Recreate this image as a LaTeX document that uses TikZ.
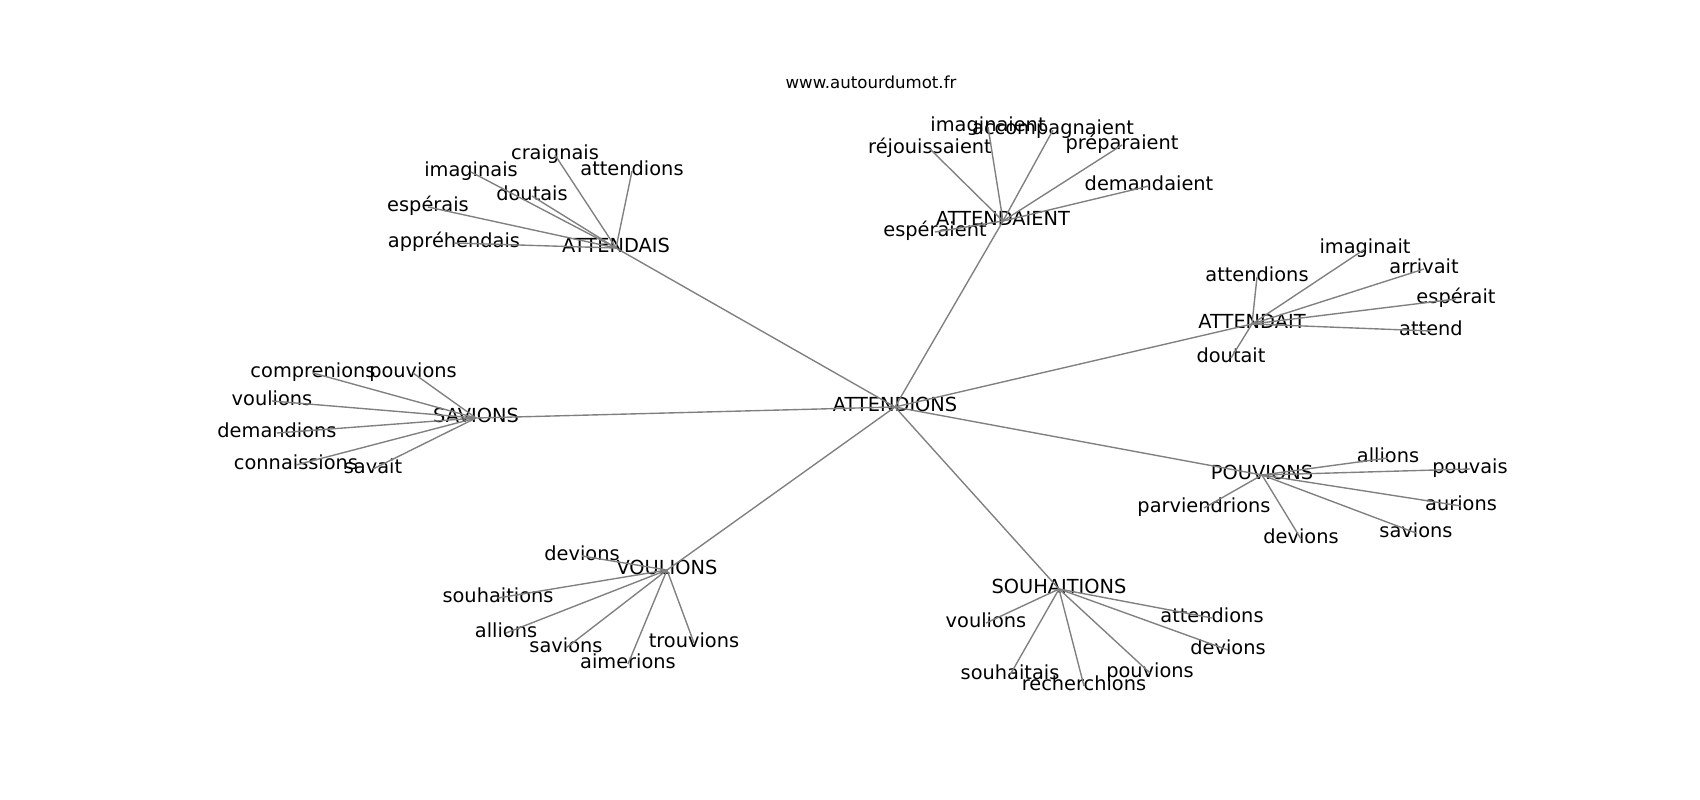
\documentclass[tikz,border=0pt]{standalone}
\usepackage{fontspec}
\setmainfont{DejaVu Sans}
\tikzset{
  word/.style={inner sep=0pt,text height=10.6pt,text depth=4.8pt,font=\fontsize{14}{17}\selectfont},
  link/.style={gray,line width=1pt}
}
\begin{document}
\begin{tikzpicture}[x=0.254mm,y=-0.254mm]
\useasboundingbox (0,0) rectangle (1700,800);

% Title
\node[anchor=base,font=\fontsize{12}{14}\selectfont] (title) at (871,88) {www.autourdumot.fr};

% Centre
\node[word] (attendions) at (895,407) {ATTENDIONS};

% ATTENDAIS
\node[word] (attendais) at (616,248) {ATTENDAIS};
\node[word] (ais-craignais) at (555,155) {craignais};
\node[word] (ais-attendions) at (632,171) {attendions};
\node[word] (ais-imaginais) at (471,172) {imaginais};
\node[word] (ais-doutais) at (532,196) {doutais};
\node[word] (ais-esperais) at (428,207) {espérais};
\node[word] (ais-apprehendais) at (454,243) {appréhendais};

% ATTENDAIENT
\node[word] (attendaient) at (1003,221) {ATTENDAIENT};
\node[word] (aient-imaginaient) at (988,127) {imaginaient};
\node[word] (aient-accompagnaient) at (1053,130) {accompagnaient};
\node[word] (aient-rejouissaient) at (930,149) {réjouissaient};
\node[word] (aient-preparaient) at (1122,145) {préparaient};
\node[word] (aient-demandaient) at (1149,186) {demandaient};
\node[word] (aient-esperaient) at (935,232) {espéraient};

% ATTENDAIT
\node[word] (attendait) at (1252,324) {ATTENDAIT};
\node[word] (ait-attendions) at (1257,277) {attendions};
\node[word] (ait-imaginait) at (1365,249) {imaginait};
\node[word] (ait-arrivait) at (1424,269) {arrivait};
\node[word] (ait-esperait) at (1456,299) {espérait};
\node[word] (ait-attend) at (1431,331) {attend};
\node[word] (ait-doutait) at (1231,358) {doutait};

% POUVIONS
\node[word] (pouvions) at (1262,475) {POUVIONS};
\node[word] (pou-allions) at (1388,458) {allions};
\node[word] (pou-pouvais) at (1470,469) {pouvais};
\node[word] (pou-aurions) at (1461,506) {aurions};
\node[word] (pou-savions) at (1416,533) {savions};
\node[word] (pou-devions) at (1301,539) {devions};
\node[word] (pou-parviendrions) at (1204,508) {parviendrions};

% SAVIONS
\node[word] (savions) at (476,418) {SAVIONS};
\node[word] (sav-comprenions) at (313,373) {comprenions};
\node[word] (sav-pouvions) at (413,373) {pouvions};
\node[word] (sav-voulions) at (272,401) {voulions};
\node[word] (sav-demandions) at (277,433) {demandions};
\node[word] (sav-connaissions) at (296,465) {connaissions};
\node[word] (sav-savait) at (373,469) {savait};

% VOULIONS
\node[word] (voulions) at (667,570) {VOULIONS};
\node[word] (vou-devions) at (582,556) {devions};
\node[word] (vou-souhaitions) at (498,598) {souhaitions};
\node[word] (vou-allions) at (506,633) {allions};
\node[word] (vou-savions) at (566,648) {savions};
\node[word] (vou-aimerions) at (628,664) {aimerions};
\node[word] (vou-trouvions) at (694,643) {trouvions};

% SOUHAITIONS
\node[word] (souhaitions) at (1059,589) {SOUHAITIONS};
\node[word] (sou-voulions) at (986,623) {voulions};
\node[word] (sou-attendions) at (1212,618) {attendions};
\node[word] (sou-devions) at (1228,650) {devions};
\node[word] (sou-souhaitais) at (1010,675) {souhaitais};
\node[word] (sou-recherchions) at (1084,686) {recherchions};
\node[word] (sou-pouvions) at (1150,673) {pouvions};

% Links
\foreach \h in {attendais,attendaient,attendait,pouvions,savions,voulions,souhaitions}
  \draw[link] (attendions.center) -- (\h.center);
\foreach \w in {craignais,attendions,imaginais,doutais,esperais,apprehendais}
  \draw[link] (attendais.center) -- (ais-\w.center);
\foreach \w in {imaginaient,accompagnaient,rejouissaient,preparaient,demandaient,esperaient}
  \draw[link] (attendaient.center) -- (aient-\w.center);
\foreach \w in {attendions,imaginait,arrivait,esperait,attend,doutait}
  \draw[link] (attendait.center) -- (ait-\w.center);
\foreach \w in {allions,pouvais,aurions,savions,devions,parviendrions}
  \draw[link] (pouvions.center) -- (pou-\w.center);
\foreach \w in {comprenions,pouvions,voulions,demandions,connaissions,savait}
  \draw[link] (savions.center) -- (sav-\w.center);
\foreach \w in {devions,souhaitions,allions,savions,aimerions,trouvions}
  \draw[link] (voulions.center) -- (vou-\w.center);
\foreach \w in {voulions,attendions,devions,souhaitais,recherchions,pouvions}
  \draw[link] (souhaitions.center) -- (sou-\w.center);
\end{tikzpicture}
\end{document}
